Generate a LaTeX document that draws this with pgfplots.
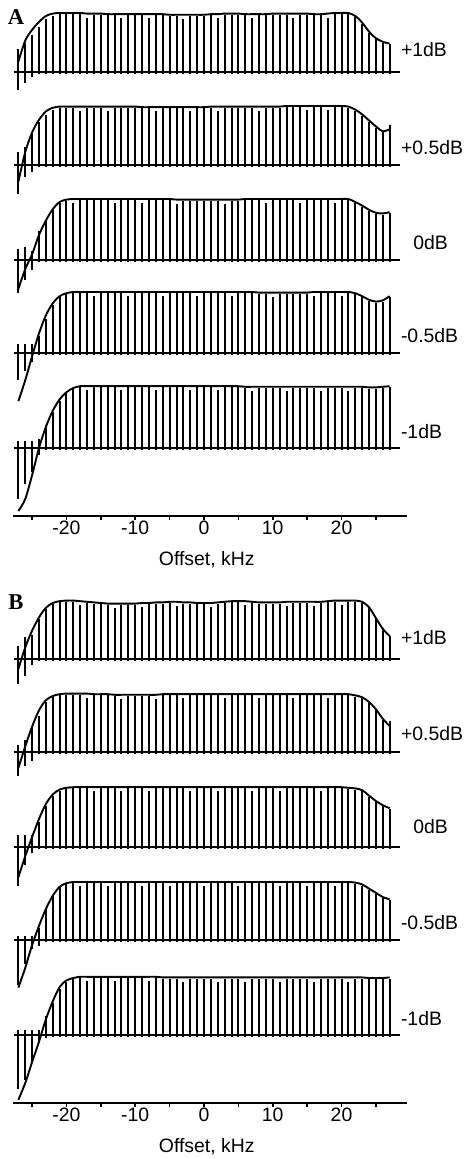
\documentclass[border=0pt]{standalone}
\usepackage{fontspec}
\setmainfont{Liberation Sans}
\setsansfont{Liberation Sans}
\newfontfamily\serifbf{Liberation Serif}
\usepackage{pgfplots}
\usepackage{pgfplotstable}
\pgfplotsset{compat=1.18}

% x: offset (kHz); e = envelope, u/d = stem extent above/below baseline
\pgfplotstableread{
x e1 e2 e3 e4 e5 u1 u2 u3 u4 u5 d1 d2 d3 d4 d5
-27 0.17 -0.27 -0.48 -0.80 -1.05 0.38 0.22 0.19 0.15 0.11 0.30 0.48 0.55 0.45 0.85
-26 0.52 0.22 -0.15 -0.45 -0.85 0.48 0.30 0.22 0.15 0.11 0.18 0.20 0.33 0.30 0.60
-25 0.70 0.55 0.10 -0.05 -0.45 0.62 0.53 0.15 0.15 0.11 0.08 0.11 0.17 0.15 0.40
-24 0.83 0.76 0.42 0.33 0.00 0.75 0.72 0.48 0.28 0.15 0.03 0.03 0.03 0.03 0.12
-23 0.93 0.90 0.66 0.63 0.35 0.88 0.84 0.66 0.57 0.38 0.03 0.03 0.03 0.03 0.03
-22 0.97 0.96 0.85 0.83 0.62 0.93 0.93 0.84 0.80 0.60 0.03 0.03 0.03 0.03 0.03
-21 0.98 0.98 0.97 0.95 0.81 0.96 0.96 0.95 0.93 0.79 0.03 0.03 0.03 0.03 0.03
-20 0.98 0.98 1.01 1.00 0.93 0.96 0.96 0.99 0.98 0.91 0.03 0.03 0.03 0.03 0.03
-19 0.98 0.98 1.02 1.02 1.00 0.96 0.96 0.95 1.00 0.98 0.03 0.03 0.03 0.03 0.03
-18 0.98 0.98 1.02 1.02 1.03 0.96 0.91 1.00 1.00 1.01 0.03 0.03 0.03 0.03 0.03
-17 0.97 0.98 1.02 1.02 1.03 0.90 0.96 1.00 1.00 0.96 0.03 0.03 0.03 0.03 0.03
-16 0.97 0.98 1.02 1.02 1.03 0.95 0.96 1.00 0.95 1.01 0.03 0.03 0.03 0.03 0.03
-15 0.97 0.98 1.02 1.02 1.03 0.95 0.96 1.00 1.00 1.01 0.03 0.03 0.03 0.03 0.03
-14 0.96 0.98 1.02 1.02 1.03 0.94 0.91 1.00 1.00 1.01 0.03 0.03 0.03 0.03 0.03
-13 0.96 0.98 1.02 1.02 1.03 0.94 0.96 0.95 1.00 1.01 0.03 0.03 0.03 0.03 0.03
-12 0.96 0.98 1.02 1.02 1.03 0.89 0.96 1.00 1.00 0.96 0.03 0.03 0.03 0.03 0.03
-11 0.96 0.98 1.02 1.02 1.03 0.94 0.96 1.00 0.95 1.01 0.03 0.03 0.03 0.03 0.03
-10 0.96 0.98 1.02 1.02 1.03 0.94 0.96 1.00 1.00 1.01 0.03 0.03 0.03 0.03 0.03
-9 0.96 0.97 1.02 1.02 1.03 0.94 0.95 0.95 1.00 1.01 0.03 0.03 0.03 0.03 0.03
-8 0.96 0.97 1.02 1.02 1.03 0.89 0.95 1.00 1.00 1.01 0.03 0.03 0.03 0.03 0.03
-7 0.96 0.97 1.02 1.02 1.03 0.94 0.90 1.00 1.00 0.96 0.03 0.03 0.03 0.03 0.03
-6 0.96 0.97 1.02 1.02 1.03 0.94 0.95 1.00 0.95 1.01 0.03 0.03 0.03 0.03 0.03
-5 0.95 0.97 1.02 1.02 1.03 0.93 0.95 1.00 1.00 1.01 0.03 0.03 0.03 0.03 0.03
-4 0.95 0.97 1.01 1.02 1.03 0.93 0.95 0.94 1.00 1.01 0.03 0.03 0.03 0.03 0.03
-3 0.95 0.97 1.01 1.02 1.03 0.88 0.95 0.99 1.00 1.01 0.03 0.03 0.03 0.03 0.03
-2 0.95 0.97 1.01 1.02 1.03 0.93 0.90 0.99 1.00 0.96 0.03 0.03 0.03 0.03 0.03
-1 0.95 0.97 1.01 1.02 1.03 0.93 0.95 0.99 0.95 1.01 0.03 0.03 0.03 0.03 0.03
0 0.95 0.97 1.01 1.02 1.03 0.93 0.95 0.99 1.00 1.01 0.03 0.03 0.03 0.03 0.03
1 0.96 0.98 1.01 1.02 1.03 0.94 0.96 0.99 1.00 1.01 0.03 0.03 0.03 0.03 0.03
2 0.96 0.98 1.01 1.02 1.03 0.89 0.91 0.99 1.00 0.96 0.03 0.03 0.03 0.03 0.03
3 0.97 0.98 1.01 1.02 1.03 0.95 0.96 0.94 1.00 1.01 0.03 0.03 0.03 0.03 0.03
4 0.97 0.98 1.01 1.02 1.03 0.95 0.96 0.99 0.95 1.01 0.03 0.03 0.03 0.03 0.03
5 0.97 0.98 1.01 1.02 1.03 0.95 0.96 0.99 1.00 1.01 0.03 0.03 0.03 0.03 0.03
6 0.96 0.98 1.02 1.02 1.02 0.94 0.96 1.00 1.00 1.00 0.03 0.03 0.03 0.03 0.03
7 0.96 0.98 1.02 1.02 1.02 0.89 0.96 1.00 1.00 0.95 0.03 0.03 0.03 0.03 0.03
8 0.96 0.98 1.02 1.01 1.02 0.94 0.91 1.00 0.99 1.00 0.03 0.03 0.03 0.03 0.03
9 0.96 0.98 1.02 1.01 1.02 0.94 0.96 0.95 0.99 1.00 0.03 0.03 0.03 0.03 0.03
10 0.97 0.98 1.02 1.01 1.02 0.95 0.96 1.00 0.94 1.00 0.03 0.03 0.03 0.03 0.03
11 0.97 0.98 1.02 1.01 1.02 0.95 0.96 1.00 0.99 1.00 0.03 0.03 0.03 0.03 0.03
12 0.97 0.99 1.02 1.01 1.02 0.95 0.97 1.00 0.99 0.95 0.03 0.03 0.03 0.03 0.03
13 0.97 0.99 1.02 1.01 1.02 0.90 0.97 1.00 0.99 1.00 0.03 0.03 0.03 0.03 0.03
14 0.97 0.99 1.02 1.01 1.02 0.95 0.97 0.95 0.99 1.00 0.03 0.03 0.03 0.03 0.03
15 0.97 0.99 1.02 1.01 1.02 0.95 0.92 1.00 0.99 1.00 0.03 0.03 0.03 0.03 0.03
16 0.96 0.99 1.02 1.02 1.02 0.94 0.97 1.00 0.95 1.00 0.03 0.03 0.03 0.03 0.03
17 0.96 0.99 1.02 1.02 1.02 0.94 0.97 1.00 1.00 0.95 0.03 0.03 0.03 0.03 0.03
18 0.97 0.99 1.02 1.02 1.02 0.90 0.92 1.00 1.00 1.00 0.03 0.03 0.03 0.03 0.03
19 0.98 0.99 1.02 1.02 1.02 0.96 0.97 0.95 1.00 1.00 0.03 0.03 0.03 0.03 0.03
20 0.98 0.99 1.02 1.02 1.02 0.96 0.97 1.00 0.95 1.00 0.03 0.03 0.03 0.03 0.03
21 0.98 0.98 1.02 1.02 1.02 0.96 0.96 1.00 1.00 0.95 0.03 0.03 0.03 0.03 0.03
22 0.93 0.93 0.97 1.00 1.02 0.91 0.91 0.95 0.98 1.00 0.03 0.03 0.03 0.03 0.03
23 0.82 0.85 0.91 0.95 1.02 0.80 0.83 0.89 0.93 1.00 0.03 0.03 0.03 0.03 0.03
24 0.67 0.75 0.84 0.89 1.01 0.65 0.73 0.82 0.87 0.99 0.03 0.03 0.03 0.03 0.03
25 0.56 0.65 0.79 0.86 1.01 0.54 0.63 0.77 0.84 0.99 0.03 0.03 0.03 0.03 0.03
26 0.50 0.57 0.78 0.88 1.02 0.48 0.55 0.76 0.86 1.00 0.03 0.03 0.03 0.03 0.03
27 0.47 0.60 0.80 0.95 1.03 0.46 0.67 0.79 0.93 1.01 0.03 0.03 0.03 0.03 0.03
}\panelA

\pgfplotstableread{
x e1 e2 e3 e4 e5 u1 u2 u3 u4 u5 d1 d2 d3 d4 d5
-27 -0.17 -0.26 -0.50 -0.79 -1.08 0.22 0.13 0.20 0.07 0.09 0.42 0.40 0.65 0.75 0.90
-26 0.19 0.10 -0.15 -0.46 -0.80 0.36 0.21 0.20 0.07 0.09 0.28 0.23 0.30 0.40 0.75
-25 0.47 0.43 0.17 -0.08 -0.45 0.39 0.40 0.20 0.07 0.09 0.11 0.15 0.10 0.15 0.47
-24 0.69 0.70 0.47 0.24 -0.11 0.67 0.60 0.42 0.21 0.09 0.03 0.03 0.03 0.10 0.13
-23 0.85 0.87 0.72 0.52 0.26 0.83 0.84 0.68 0.54 0.31 0.03 0.03 0.03 0.03 0.05
-22 0.93 0.94 0.88 0.74 0.56 0.91 0.92 0.86 0.76 0.53 0.03 0.03 0.03 0.03 0.03
-21 0.96 0.97 0.96 0.89 0.80 0.94 0.95 0.94 0.88 0.76 0.03 0.03 0.03 0.03 0.03
-20 0.97 0.98 0.99 0.95 0.91 0.95 0.96 0.97 0.93 0.89 0.03 0.03 0.03 0.03 0.03
-19 0.97 0.98 1.00 0.97 0.95 0.95 0.96 0.98 0.95 0.93 0.03 0.03 0.03 0.03 0.03
-18 0.96 0.98 1.00 0.97 0.97 0.89 0.96 0.98 0.90 0.95 0.03 0.03 0.03 0.03 0.03
-17 0.95 0.98 1.00 0.97 0.97 0.93 0.91 0.98 0.95 0.90 0.03 0.03 0.03 0.03 0.03
-16 0.94 0.97 1.00 0.97 0.97 0.92 0.95 0.93 0.95 0.95 0.03 0.03 0.03 0.03 0.03
-15 0.93 0.97 1.00 0.97 0.97 0.91 0.95 0.98 0.95 0.95 0.03 0.03 0.03 0.03 0.03
-14 0.92 0.97 1.00 0.97 0.97 0.90 0.95 0.98 0.90 0.95 0.03 0.03 0.03 0.03 0.03
-13 0.92 0.96 1.00 0.97 0.97 0.85 0.94 0.98 0.95 0.90 0.03 0.03 0.03 0.03 0.03
-12 0.92 0.96 1.00 0.97 0.97 0.90 0.89 0.93 0.95 0.95 0.03 0.03 0.03 0.03 0.03
-11 0.92 0.96 1.00 0.97 0.97 0.90 0.94 0.98 0.95 0.95 0.03 0.03 0.03 0.03 0.03
-10 0.92 0.96 1.00 0.97 0.97 0.90 0.94 0.98 0.95 0.95 0.03 0.03 0.03 0.03 0.03
-9 0.93 0.96 1.00 0.97 0.97 0.86 0.94 0.98 0.90 0.95 0.03 0.03 0.03 0.03 0.03
-8 0.93 0.96 1.00 0.97 0.97 0.91 0.94 0.93 0.95 0.90 0.03 0.03 0.03 0.03 0.03
-7 0.94 0.96 1.00 0.97 0.97 0.92 0.89 0.98 0.95 0.95 0.03 0.03 0.03 0.03 0.03
-6 0.94 0.97 1.00 0.97 0.96 0.92 0.95 0.98 0.95 0.94 0.03 0.03 0.03 0.03 0.03
-5 0.95 0.97 1.00 0.97 0.96 0.93 0.95 0.98 0.90 0.94 0.03 0.03 0.03 0.03 0.03
-4 0.95 0.97 1.00 0.97 0.96 0.88 0.95 0.98 0.95 0.94 0.03 0.03 0.03 0.03 0.03
-3 0.94 0.97 1.00 0.97 0.96 0.92 0.90 0.98 0.95 0.89 0.03 0.03 0.03 0.03 0.03
-2 0.94 0.97 1.00 0.97 0.96 0.92 0.95 0.93 0.95 0.94 0.03 0.03 0.03 0.03 0.03
-1 0.93 0.97 1.00 0.97 0.96 0.91 0.95 0.98 0.95 0.94 0.03 0.03 0.03 0.03 0.03
0 0.93 0.97 1.00 0.97 0.96 0.91 0.95 0.98 0.90 0.94 0.03 0.03 0.03 0.03 0.03
1 0.93 0.97 1.00 0.97 0.96 0.86 0.95 0.98 0.95 0.94 0.03 0.03 0.03 0.03 0.03
2 0.94 0.97 1.00 0.97 0.96 0.92 0.95 0.93 0.95 0.89 0.03 0.03 0.03 0.03 0.03
3 0.95 0.97 1.00 0.97 0.96 0.93 0.90 0.98 0.95 0.94 0.03 0.03 0.03 0.03 0.03
4 0.96 0.97 1.00 0.97 0.96 0.94 0.95 0.98 0.95 0.94 0.03 0.03 0.03 0.03 0.03
5 0.96 0.97 1.00 0.97 0.96 0.94 0.95 0.98 0.90 0.94 0.03 0.03 0.03 0.03 0.03
6 0.96 0.97 1.00 0.97 0.96 0.89 0.95 0.98 0.95 0.89 0.03 0.03 0.03 0.03 0.03
7 0.95 0.97 1.00 0.97 0.96 0.93 0.95 0.93 0.95 0.94 0.03 0.03 0.03 0.03 0.03
8 0.94 0.97 1.00 0.97 0.96 0.92 0.90 0.98 0.95 0.94 0.03 0.03 0.03 0.03 0.03
9 0.94 0.97 1.00 0.97 0.96 0.92 0.95 0.98 0.95 0.94 0.03 0.03 0.03 0.03 0.03
10 0.94 0.97 1.00 0.97 0.96 0.92 0.95 0.98 0.95 0.94 0.03 0.03 0.03 0.03 0.03
11 0.94 0.97 1.00 0.97 0.96 0.92 0.95 0.93 0.90 0.89 0.03 0.03 0.03 0.03 0.03
12 0.95 0.97 1.00 0.97 0.96 0.88 0.95 0.98 0.95 0.94 0.03 0.03 0.03 0.03 0.03
13 0.95 0.97 1.00 0.97 0.96 0.93 0.90 0.98 0.95 0.94 0.03 0.03 0.03 0.03 0.03
14 0.95 0.97 1.00 0.97 0.96 0.93 0.95 0.98 0.95 0.94 0.03 0.03 0.03 0.03 0.03
15 0.95 0.97 1.00 0.97 0.96 0.93 0.95 0.98 0.90 0.94 0.03 0.03 0.03 0.03 0.03
16 0.95 0.97 1.00 0.97 0.96 0.88 0.95 0.98 0.95 0.89 0.03 0.03 0.03 0.03 0.03
17 0.95 0.97 1.00 0.97 0.96 0.93 0.95 0.93 0.95 0.94 0.03 0.03 0.03 0.03 0.03
18 0.96 0.97 1.00 0.97 0.96 0.94 0.90 0.98 0.95 0.94 0.03 0.03 0.03 0.03 0.03
19 0.97 0.97 1.00 0.97 0.96 0.95 0.95 0.98 0.90 0.94 0.03 0.03 0.03 0.03 0.03
20 0.97 0.97 1.00 0.97 0.96 0.90 0.95 0.98 0.95 0.94 0.03 0.03 0.03 0.03 0.03
21 0.97 0.97 0.99 0.97 0.96 0.95 0.95 0.97 0.95 0.89 0.03 0.03 0.03 0.03 0.03
22 0.97 0.95 0.98 0.96 0.96 0.95 0.93 0.96 0.94 0.94 0.03 0.03 0.03 0.03 0.03
23 0.95 0.92 0.95 0.93 0.96 0.93 0.90 0.93 0.91 0.94 0.03 0.03 0.03 0.03 0.03
24 0.86 0.84 0.86 0.86 0.95 0.84 0.82 0.84 0.84 0.93 0.03 0.03 0.03 0.03 0.03
25 0.68 0.72 0.77 0.79 0.95 0.66 0.70 0.75 0.77 0.93 0.03 0.03 0.03 0.03 0.03
26 0.50 0.56 0.70 0.72 0.95 0.48 0.54 0.68 0.70 0.93 0.03 0.03 0.03 0.03 0.03
27 0.38 0.44 0.65 0.68 0.96 0.38 0.52 0.64 0.67 0.94 0.03 0.03 0.03 0.03 0.03
}\panelB

\pgfplotsset{
  stack/.style={
    x=3.4375pt, y=30pt,
    xmin=-27.8, xmax=29.5, ymin=-1.13, ymax=7.3,
    axis x line*=bottom, axis y line=none, ytick=\empty,
    xtick={-20,-10,0,10,20},
    xticklabels={\mbox{-20},\mbox{-10},\mbox{0},\mbox{10},\mbox{20}},
    minor xtick={-25,-15,-5,5,15,25},
    tick align=outside, major tick length=2.2pt, minor tick length=2.2pt,
    tick style={black, line width=0.75pt},
    axis line style={black, line width=0.75pt},
    xticklabel style={inner sep=0pt, font=\fontsize{9.7}{11.6}\selectfont},
    clip=false,
  },
  env/.style={black, line width=0.95pt, smooth, mark=none},
  stem/.style={draw=none, mark=none,
    error bars/.cd, y dir=both, y explicit, error mark=none,
    error bar style={draw=black, line width=1pt, solid}},
}
\tikzset{
  lab/.style={anchor=west, inner sep=0pt},
  letter/.style={font=\fontsize{11.3}{13}\selectfont\serifbf\bfseries},
}

% one trace: table, column index, baseline
\newcommand{\trace}[3]{%
  \addplot[black, line width=0.9pt] coordinates {(-27.7,#3) (28.5,#3)};
  \addplot[stem] table[x=x, y expr=#3, y error plus=u#2, y error minus=d#2] {#1};
  \addplot[env] table[x=x, y expr=\thisrow{e#2}+#3] {#1};
}

\begin{document}
\fontsize{9.7}{11.6}\selectfont
\begin{tikzpicture}
\begin{axis}[stack, at={(0pt,0pt)}, anchor=origin]
  \trace{\panelA}{1}{6.27}
  \trace{\panelA}{2}{4.71}
  \trace{\panelA}{3}{3.13}
  \trace{\panelA}{4}{1.58}
  \trace{\panelA}{5}{0}
  \node[lab] at (axis cs:28.6,6.64) {+1dB};
  \node[lab] at (axis cs:28.6,5.01) {+0.5dB};
  \node[lab] at (axis cs:30.4,3.43) {0dB};
  \node[lab] at (axis cs:28.6,1.88) {-0.5dB};
  \node[lab] at (axis cs:28.6,0.28) {-1dB};
  \node[letter] at (axis cs:-27.35,7.18) {A};
  \node at (axis cs:0.4,-1.87) {Offset, kHz};
\end{axis}
\begin{axis}[stack, at={(0pt,-293.5pt)}, anchor=origin]
  \trace{\panelB}{1}{6.27}
  \trace{\panelB}{2}{4.71}
  \trace{\panelB}{3}{3.13}
  \trace{\panelB}{4}{1.58}
  \trace{\panelB}{5}{0}
  \node[lab] at (axis cs:28.6,6.62) {+1dB};
  \node[lab] at (axis cs:28.6,5.03) {+0.5dB};
  \node[lab] at (axis cs:30.4,3.48) {0dB};
  \node[lab] at (axis cs:28.6,1.88) {-0.5dB};
  \node[lab] at (axis cs:28.6,0.27) {-1dB};
  \node[letter] at (axis cs:-27.35,7.22) {B};
  \node at (axis cs:0.4,-1.87) {Offset, kHz};
\end{axis}
\pgfresetboundingbox
\path[use as bounding box] (-102pt,-355.5pt) rectangle (130.5pt,224pt);
\end{tikzpicture}
\end{document}
